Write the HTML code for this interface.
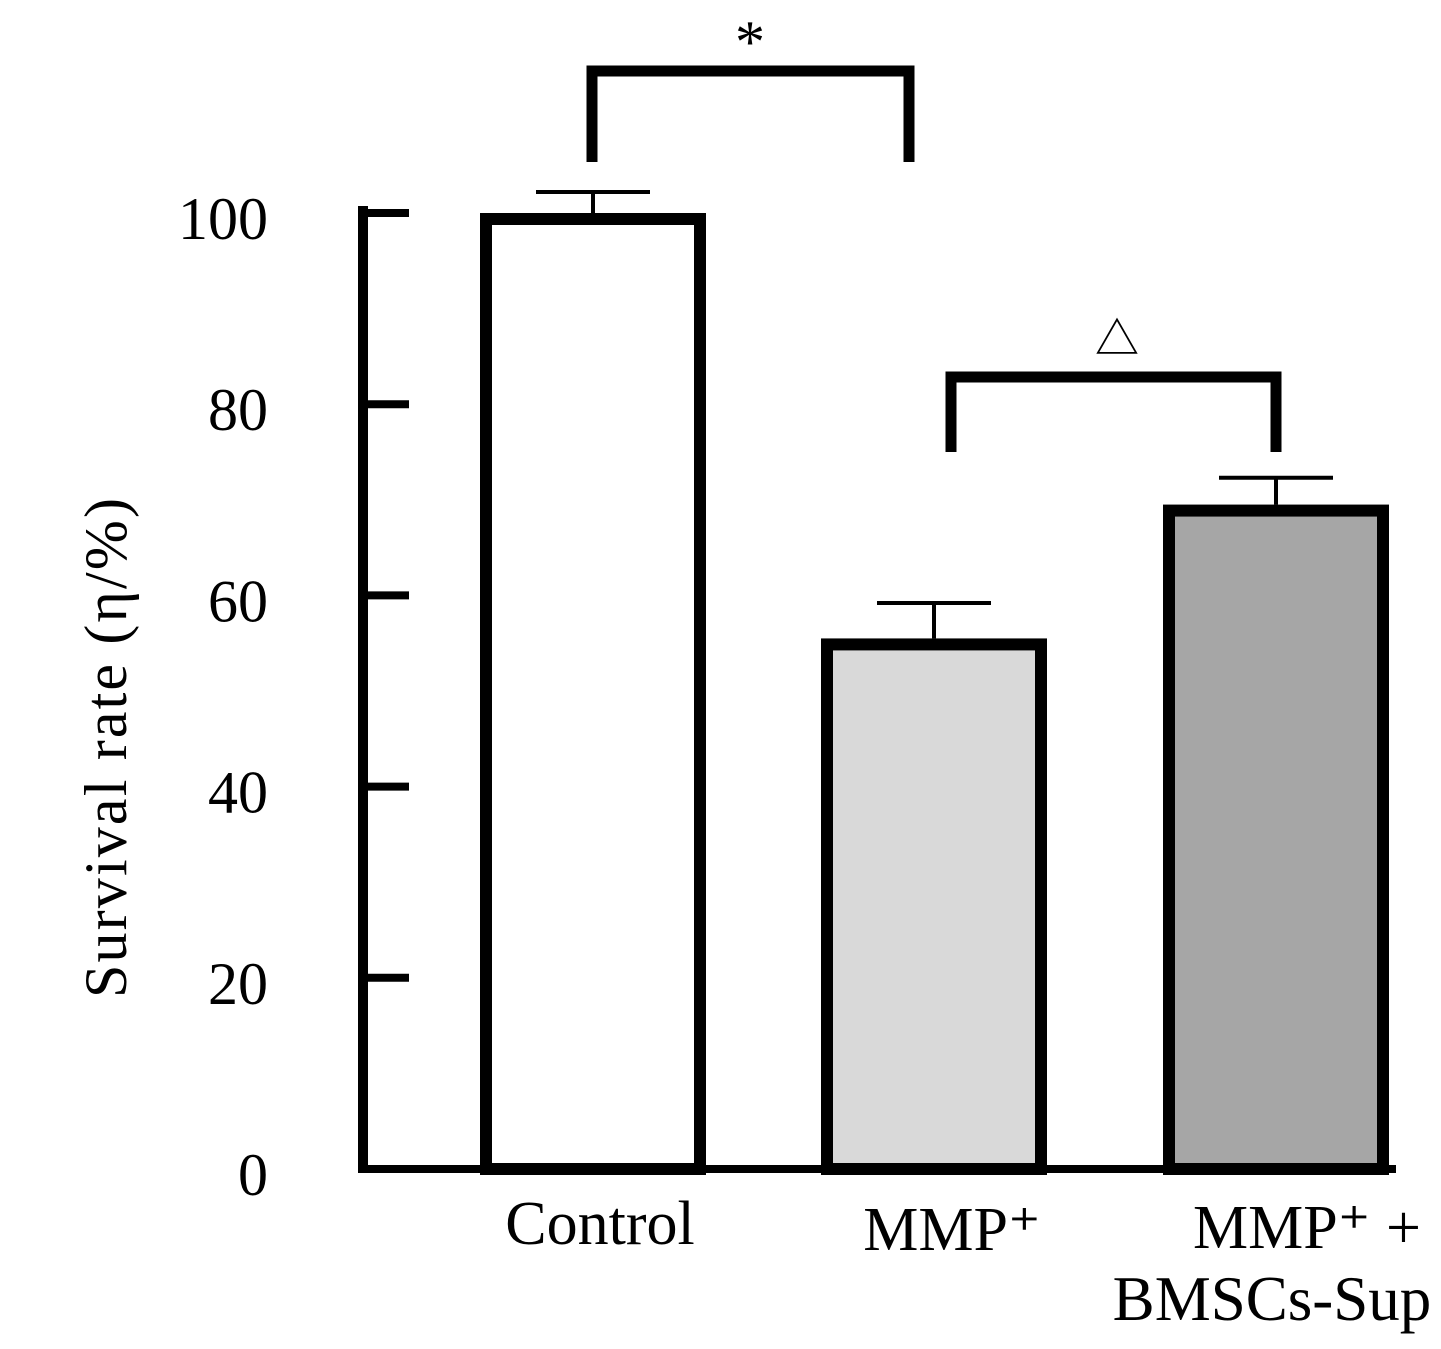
<!DOCTYPE html>
<html><head><meta charset="utf-8"><style>
html,body{margin:0;padding:0;background:#fff;}
svg{display:block;}
text{font-family:"Liberation Serif","Noto Serif CJK SC",serif;fill:#000;}
</style></head><body>
<svg id="chart" width="1441" height="1349" viewBox="0 0 1441 1349">
<g id="axes"></g><g id="bars"></g><g id="ann"></g>
</svg>
<script>
const categories=["Control","MMP+","MMP+ + BMSCs-Sup"];
const values=[100,55.5,69.5];
const errTops=[102.2,59.2,72.3];
const fills=["#ffffff","#d9d9d9","#a6a6a6"];
const yTicks=[0,20,40,60,80,100];
const barLefts=[480,821,1163];
const barW=226;
const NS="http://www.w3.org/2000/svg";
function y(v){return 1169-(v/100)*956;}
function mk(tag,attrs,parent,txt){const e=document.createElementNS(NS,tag);for(const k in attrs)e.setAttribute(k,attrs[k]);if(txt!==undefined)e.textContent=txt;parent.appendChild(e);return e;}
const axes=document.getElementById('axes'),bars=document.getElementById('bars'),ann=document.getElementById('ann');
let yl=mk('line',{x1:363,y1:206,x2:363,y2:1169,stroke:'#000','stroke-width':10},axes);


let xl=mk('line',{x1:358,y1:1169,x2:1396,y2:1169,stroke:'#000','stroke-width':8},axes);


yTicks.forEach(t=>{
  if(t>0){let tk=mk('line',{x1:363,y1:y(t),x2:409,y2:y(t),stroke:'#000','stroke-width':8},axes);
  
  }
  let lb=mk('text',{x:268,y:y(t)+26,'font-size':60,'text-anchor':'end'},axes,String(t));
  
  
});
let yt=mk('text',{x:0,y:0,'font-size':60,'text-anchor':'middle',textLength:500,lengthAdjust:'spacing',transform:'translate(126,748) rotate(-90)'},axes,'Survival rate (η/%)');


values.forEach((v,i)=>{
  const cx=barLefts[i]+barW/2;
  let eb=mk('line',{x1:cx,y1:y(errTops[i]),x2:cx,y2:y(v),stroke:'#000','stroke-width':4},bars);
  
  
  let cap=mk('line',{x1:cx-57,y1:y(errTops[i]),x2:cx+57,y2:y(errTops[i]),stroke:'#000','stroke-width':4},bars);
  
  
  let r=mk('rect',{x:barLefts[i]+6,y:y(v)+6,width:barW-12,height:1169-y(v)-6,fill:fills[i],stroke:'#000','stroke-width':12},bars);
  
  
});
let c1=mk('text',{x:600,y:1244,'font-size':62,'text-anchor':'middle'},ann,'Control');


let c2=mk('text',{x:952,y:1250,'font-size':62,'text-anchor':'middle'},ann,'MMP⁺');


let c3=mk('text',{x:1307,y:1248,'font-size':62,'text-anchor':'middle'},ann,'MMP⁺ +');


let c4=mk('text',{x:1272,y:1320,'font-size':63,'text-anchor':'middle'},ann,'BMSCs-Sup');


let b1=mk('path',{d:'M592 162 V71 H909 V162',fill:'none',stroke:'#000','stroke-width':11},ann);


let s1=mk('text',{x:750,y:62,'font-size':60,'text-anchor':'middle'},ann,'*');


let b2=mk('path',{d:'M951 452 V377 H1276 V452',fill:'none',stroke:'#000','stroke-width':11},ann);


let s2=mk('text',{x:1117,y:354,'font-size':44,'text-anchor':'middle'},ann,'△');


</script>
</body></html>
